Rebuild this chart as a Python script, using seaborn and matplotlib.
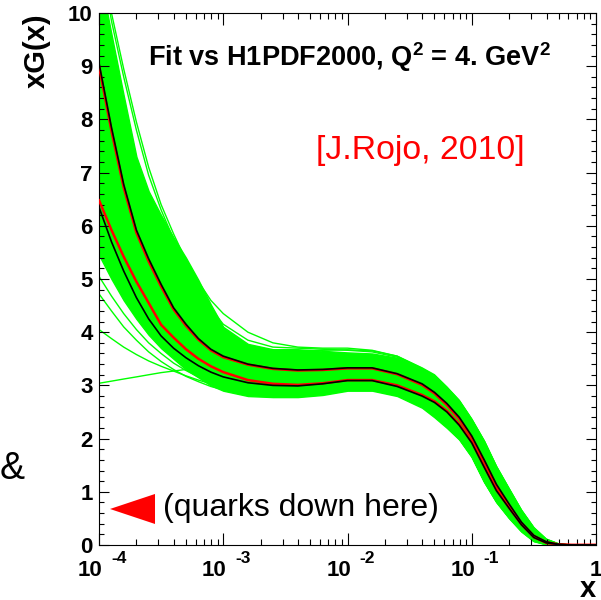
import matplotlib
matplotlib.use("Agg")
import numpy as np
import pandas as pd
import seaborn as sns
import matplotlib.pyplot as plt
from matplotlib.patches import Polygon
from matplotlib.ticker import FixedLocator, LogLocator, MultipleLocator, NullFormatter
from matplotlib.transforms import ScaledTranslation

plt.rcParams['font.family'] = ['Liberation Sans', 'DejaVu Sans']
plt.rcParams['mathtext.fontset'] = 'custom'
plt.rcParams['mathtext.rm'] = 'Liberation Sans:bold'
plt.rcParams['mathtext.bf'] = 'Liberation Sans:bold'
plt.rcParams['mathtext.default'] = 'regular'

# ---------------- data ----------------
x_vals = [1.0e-4, 1.26e-4, 1.58e-4, 2.0e-4, 2.51e-4, 3.16e-4, 3.98e-4, 5.01e-4, 6.31e-4, 7.94e-4,
          1.0e-3, 1.58e-3, 2.51e-3, 3.98e-3, 6.31e-3, 1.0e-2, 1.58e-2, 2.51e-2, 3.98e-2, 5.01e-2,
          6.31e-2, 7.94e-2, 0.1, 0.126, 0.158, 0.2, 0.251, 0.316, 0.398, 0.501, 0.631, 0.794, 1.0]

# H1PDF2000 error band (black)
h1_upper = [9.06, 7.85, 6.78, 5.92, 5.38, 4.90, 4.46, 4.15, 3.88, 3.68, 3.55, 3.40, 3.32, 3.29, 3.30, 3.33,
            3.33, 3.22, 3.03, 2.87, 2.66, 2.40, 2.05, 1.60, 1.14, 0.77, 0.43, 0.18, 0.06, 0.01, 0.0, 0.0, 0.0]
h1_lower = [6.35, 5.70, 5.15, 4.65, 4.25, 3.93, 3.70, 3.52, 3.37, 3.25, 3.16, 3.05, 3.00, 2.99, 3.03, 3.09,
            3.09, 2.98, 2.80, 2.68, 2.50, 2.25, 1.92, 1.46, 1.02, 0.69, 0.38, 0.14, 0.04, 0.01, 0.0, 0.0, 0.0]
# Fit error band (red)
fit_upper = [9.00, 7.78, 6.72, 5.87, 5.33, 4.86, 4.43, 4.12, 3.86, 3.66, 3.53, 3.39, 3.31, 3.28, 3.29, 3.32,
             3.32, 3.21, 3.01, 2.85, 2.63, 2.37, 2.02, 1.57, 1.11, 0.74, 0.41, 0.17, 0.05, 0.01, 0.0, 0.0, 0.0]
fit_lower = [6.48, 5.92, 5.42, 4.95, 4.55, 4.14, 3.90, 3.68, 3.50, 3.36, 3.25, 3.10, 3.03, 3.01, 3.04, 3.10,
             3.10, 3.00, 2.82, 2.70, 2.52, 2.27, 1.94, 1.48, 1.04, 0.70, 0.39, 0.15, 0.04, 0.01, 0.0, 0.0, 0.0]
# dense region of the replica cloud (green)
rep_hi = [10.8, 9.60, 8.45, 7.30, 6.65, 6.20, 5.78, 5.40, 4.98, 4.52, 4.10, 3.78, 3.68, 3.68, 3.65, 3.62,
          3.60, 3.52, 3.30, 3.18, 2.95, 2.70, 2.35, 1.95, 1.47, 1.05, 0.65, 0.32, 0.11, 0.02, 0.0, 0.0, 0.0]
rep_lo = [5.45, 5.00, 4.60, 4.25, 3.95, 3.70, 3.50, 3.30, 3.15, 3.00, 2.90, 2.80, 2.78, 2.78, 2.82, 2.90,
          2.90, 2.80, 2.58, 2.40, 2.20, 1.98, 1.65, 1.18, 0.80, 0.50, 0.25, 0.07, 0.01, 0.0, 0.0, 0.0, 0.0]
# individual outlying replicas
rep_a = [3.04, 3.08, 3.12, 3.16, 3.20, 3.24, 3.27, 3.30, 3.33, 3.37, 3.42, 3.52, 3.60, 3.64, 3.66, 3.67,
         3.65, 3.55, 3.32, 3.18, 2.96, 2.70, 2.35, 1.93, 1.45, 1.03, 0.63, 0.31, 0.10, 0.02, 0.0, 0.0, 0.0]
rep_b = [4.05, 3.88, 3.72, 3.58, 3.46, 3.36, 3.27, 3.18, 3.10, 3.03, 2.97, 2.88, 2.83, 2.82, 2.86, 2.93,
         2.93, 2.83, 2.62, 2.45, 2.24, 2.00, 1.68, 1.20, 0.82, 0.52, 0.27, 0.08, 0.01, 0.0, 0.0, 0.0, 0.0]
rep_c = [4.72, 4.40, 4.10, 3.85, 3.63, 3.45, 3.30, 3.17, 3.07, 2.98, 2.92, 2.85, 2.80, 2.80, 2.84, 2.91,
         2.91, 2.81, 2.60, 2.42, 2.22, 1.99, 1.66, 1.19, 0.81, 0.51, 0.26, 0.07, 0.01, 0.0, 0.0, 0.0, 0.0]
rep_d = [5.05, 4.68, 4.35, 4.05, 3.80, 3.60, 3.42, 3.28, 3.16, 3.06, 2.98, 2.88, 2.82, 2.81, 2.85, 2.92,
         2.92, 2.82, 2.61, 2.43, 2.23, 2.00, 1.67, 1.20, 0.82, 0.51, 0.26, 0.07, 0.01, 0.0, 0.0, 0.0, 0.0]
rep_e = [11.5, 10.0, 8.95, 7.95, 7.10, 6.40, 5.85, 5.35, 4.95, 4.60, 4.35, 4.00, 3.80, 3.72, 3.70, 3.70,
         3.66, 3.55, 3.33, 3.20, 2.97, 2.72, 2.37, 1.96, 1.48, 1.06, 0.66, 0.33, 0.11, 0.02, 0.0, 0.0, 0.0]
rep_f = [11.3, 9.85, 8.80, 7.80, 6.95, 6.30, 5.75, 5.25, 4.85, 4.45, 4.15, 3.85, 3.72, 3.70, 3.68, 3.66,
         3.63, 3.53, 3.31, 3.19, 2.96, 2.71, 2.36, 1.95, 1.47, 1.05, 0.65, 0.32, 0.11, 0.02, 0.0, 0.0, 0.0]

x_ticks = [1e-4, 1e-3, 1e-2, 1e-1, 1.0]
x_tick_labels = ['10', '10', '10', '10', '1']
x_tick_exps = ['-4', '-3', '-2', '-1']
y_ticks = list(range(0, 11))
y_tick_labels = [str(v) for v in y_ticks]

GREEN = '#00ff00'
RED = '#ff0000'

# ---------------- figure ----------------
fig = plt.figure(figsize=(6.01, 6.0), dpi=100)
fig.patch.set_facecolor('white')
ax = fig.add_axes([99 / 601, 55 / 600, 497 / 601, 532 / 600])
ax.set_xscale('log')

# replica cloud
ax.fill_between(x_vals, rep_lo, rep_hi, color=GREEN, lw=1.0, zorder=1)
reps = {'a': rep_a, 'b': rep_b, 'c': rep_c, 'd': rep_d, 'e': rep_e, 'f': rep_f}
rep_df = pd.DataFrame([(k, xv, yv) for k, ys in reps.items() for xv, yv in zip(x_vals, ys)],
                      columns=['rep', 'x', 'y'])
sns.lineplot(data=rep_df, x='x', y='y', units='rep', estimator=None, color=GREEN,
             lw=1.0, ax=ax, legend=False, sort=False, zorder=1.5)

# error bands
for ys in (fit_upper, fit_lower):
    sns.lineplot(x=x_vals, y=ys, color=RED, lw=1.8, ax=ax, legend=False, sort=False, zorder=3)
for ys in (h1_upper, h1_lower):
    sns.lineplot(x=x_vals, y=ys, color='black', lw=1.2, ax=ax, legend=False, sort=False, zorder=4)

ax.set_xlim(1e-4, 1.0)
ax.set_ylim(0, 10)

# ticks
ax.set_xticks(x_ticks, labels=x_tick_labels, fontsize=16, fontweight='bold')
ax.xaxis.set_minor_locator(LogLocator(base=10, subs=np.arange(2, 10)))
ax.xaxis.set_minor_formatter(NullFormatter())
ax.set_yticks(y_ticks, labels=y_tick_labels, fontsize=16, fontweight='bold')
ax.yaxis.set_minor_locator(MultipleLocator(0.2))
ax.tick_params(which='both', direction='in', top=True, right=True, width=0.8, color='black')
ax.tick_params(axis='x', which='major', length=8.6, pad=11.0)
ax.tick_params(axis='x', which='minor', length=4.3)
ax.tick_params(axis='y', which='major', length=7.2, pad=4.5)
ax.tick_params(axis='y', which='minor', length=3.6)
for lab in ax.get_xticklabels()[:4]:
    lab.set_transform(lab.get_transform() + ScaledTranslation(-9 / 100, 0, fig.dpi_scale_trans))
for xv, e in zip(x_ticks[:4], x_tick_exps):
    ax.annotate(e, xy=(xv, 0), xycoords=('data', 'axes fraction'), xytext=(12, -13.5),
                textcoords='offset pixels', ha='left', va='center', fontsize=12.5, fontweight='bold',
                annotation_clip=False)
for sp in ax.spines.values():
    sp.set_linewidth(0.8)
    sp.set_color('black')

# axis titles
ax.set_ylabel('xG(x)', loc='top', fontsize=21, fontweight='bold')
ax.yaxis.set_label_coords(-0.125, 1.0)
ax.yaxis.label.set_va('center')
ax.set_xlabel('x', loc='right', fontsize=21, fontweight='bold')
ax.xaxis.set_label_coords(1.0, -0.083)
ax.xaxis.label.set_va('center')

# texts
ax.text(0.503, 0.917, r'Fit vs H1PDF2000, Q$^2$ = 4. GeV$^2$', transform=ax.transAxes,
        ha='center', va='center', fontsize=19.5, fontweight='bold')
ax.text(0.646, 0.741, '[J.Rojo, 2010]', transform=ax.transAxes, ha='center', va='center',
        fontsize=24.3, color=RED)
ax.text(0.129, 0.0695, '(quarks down here)', transform=ax.transAxes, ha='left', va='center',
        fontsize=23, color='black')
ax.add_patch(Polygon([(0.0221, 0.0677), (0.1127, 0.0959), (0.1127, 0.0395)], closed=True,
                     transform=ax.transAxes, facecolor=RED, edgecolor='none', zorder=5))
fig.text(0.0, 1 - 469 / 600, '&', ha='left', va='center', fontsize=27)

fig.savefig('out.png', dpi=100)
